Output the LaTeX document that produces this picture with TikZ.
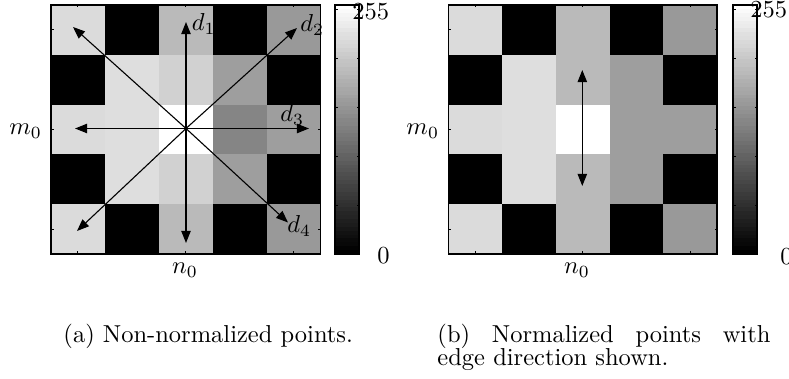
\documentclass[tikz,border=0pt]{standalone}
\usepackage{tikz}
\usetikzlibrary{arrows.meta}
\tikzset{
  frame/.style={line width=0.6pt},
  barframe/.style={line width=0.5pt},
  ticmark/.style={line width=0.4pt},
  dirarrow/.style={line width=0.45pt, -{Triangle[length=4.9pt,width=3.8pt]}},
  bothdir/.style={line width=0.45pt, {Triangle[length=4.9pt,width=3.8pt]}-{Triangle[length=4.9pt,width=3.8pt]}},
  lbl/.style={inner sep=0pt, anchor=base west},
  lblc/.style={inner sep=0pt, anchor=base},
}

\begin{document}
\begin{tikzpicture}[x=0.4082pt, y=-0.4082pt]
        \useasboundingbox (0,0) rectangle (789,379);

        % (a) non-normalized points
        \foreach \row/\vals in {0/{86,0,73,0,60},1/{0,87,82,62,0},2/{86,87,100,52,62},3/{0,87,82,62,0},4/{86,0,73,0,60}} {
          \foreach \v [count=\col from 0] in \vals {
            \fill[white!\v!black] ({51+\col*53.9},{5+\row*49.8}) rectangle ++(53.9,49.8);
          }
        }
        \foreach \c in {0,2,4} {
          \draw[ticmark] ({51+(\c+0.5)*53.9},5) --++ (0,2.5);
          \draw[ticmark] ({51+(\c+0.5)*53.9},254) --++ (0,-2.5);
          \draw[ticmark] (51,{5+(\c+0.5)*49.8}) --++ (2.5,0);
          \draw[ticmark] (320.5,{5+(\c+0.5)*49.8}) --++ (-2.5,0);
        }
        \draw[frame] (51,5) rectangle (320.5,254);

        \foreach \k in {0,...,63} {
          \pgfmathtruncatemacro{\g}{\k*100/63}
          \fill[white!\g!black] (335,{254-\k*3.89}) rectangle (359,{254-(\k+1)*3.89});
        }
        \foreach \t in {50,100,150,200,250} {
          \draw[ticmark] (335,{254-\t*0.9765}) --++ (2.5,0);
          \draw[ticmark] (359,{254-\t*0.9765}) --++ (-2.5,0);
        }
        \draw[barframe] (335,5) rectangle (359,254);

        \coordinate (ca) at (186,128.5);
        \coordinate (up) at (186,22);
        \coordinate (dn) at (186,243);
        \coordinate (lt) at (75,128.5);
        \coordinate (rt) at (309,128.5);
        \coordinate (ul) at (73,27);
        \coordinate (ur) at (297,28);
        \coordinate (dl) at (77,231);
        \coordinate (dr) at (288,222.5);
        \draw[dirarrow] (ca) -- (up);
        \draw[dirarrow] (ca) -- (dn);
        \draw[dirarrow] (ca) -- (lt);
        \draw[dirarrow] (ca) -- (rt);
        \draw[dirarrow] (ca) -- (ul);
        \draw[dirarrow] (ca) -- (ur);
        \draw[dirarrow] (ca) -- (dl);
        \draw[dirarrow] (ca) -- (dr);

        \node[lbl] (d1) at (191.5,30.7) {$d_1$};
        \node[lbl] (d2) at (300,31.5) {$d_2$};
        \node[lbl] (d3) at (280,121.7) {$d_3$};
        \node[lbl] (d4) at (287,233) {$d_4$};
        \node[lbl] (m0a) at (9,135) {$m_0$};
        \node[lblc] (n0a) at (185,274) {$n_0$};
        \node[lbl] (topa) at (352,20) {255};
        \node[lbl] (bota) at (377,263) {0};
        \node[lbl] (capa) at (63,342) {(a) Non-normalized points.};

        % (b) normalized points
        \foreach \row/\vals in {0/{86,0,73,0,60},1/{0,87,73,62,0},2/{86,87,100,62,62},3/{0,87,73,62,0},4/{86,0,73,0,60}} {
          \foreach \v [count=\col from 0] in \vals {
            \fill[white!\v!black] ({448.5+\col*53.7},{5+\row*49.8}) rectangle ++(53.7,49.8);
          }
        }
        \foreach \c in {0,2,4} {
          \draw[ticmark] ({448.5+(\c+0.5)*53.7},5) --++ (0,2.5);
          \draw[ticmark] ({448.5+(\c+0.5)*53.7},254) --++ (0,-2.5);
          \draw[ticmark] (448.5,{5+(\c+0.5)*49.8}) --++ (2.5,0);
          \draw[ticmark] (717,{5+(\c+0.5)*49.8}) --++ (-2.5,0);
        }
        \draw[frame] (448.5,5) rectangle (717,254);

        \foreach \k in {0,...,63} {
          \pgfmathtruncatemacro{\g}{\k*100/63}
          \fill[white!\g!black] (733,{254-\k*3.89}) rectangle (757,{254-(\k+1)*3.89});
        }
        \foreach \t in {50,100,150,200,250} {
          \draw[ticmark] (733,{254-\t*0.9765}) --++ (2.5,0);
          \draw[ticmark] (757,{254-\t*0.9765}) --++ (-2.5,0);
        }
        \draw[barframe] (733,5) rectangle (757,254);

        \coordinate (eu) at (582.3,70);
        \coordinate (ed) at (582.3,186);
        \draw[bothdir] (eu) -- (ed);

        \node[lbl] (m0b) at (406,135) {$m_0$};
        \node[lblc] (n0b) at (577,274) {$n_0$};
        \node[lbl] (topb) at (750,18) {255};
        \node[lbl] (botb) at (780,265) {0};
        \node[lbl] (capb) at (437,342) {\makebox[135.9pt][s]{(b) Normalized points with}};
        \node[lbl] (capc) at (437,365) {edge direction shown.};
    \end{tikzpicture}
\end{document}
